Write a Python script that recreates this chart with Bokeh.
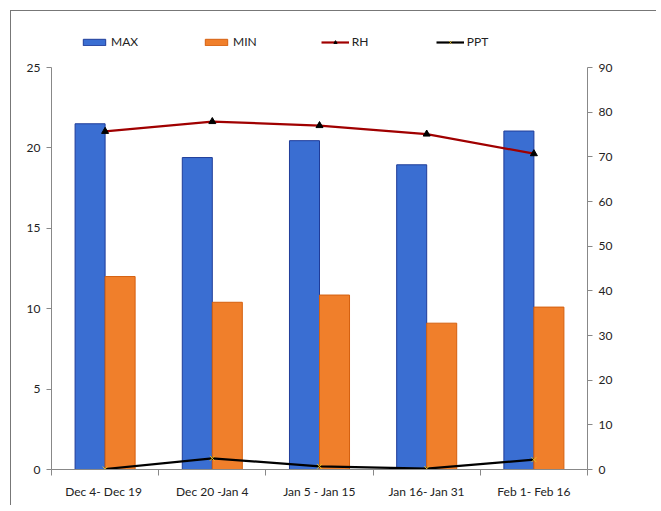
from bokeh.plotting import figure
from bokeh.models import Range1d, LinearAxis, FixedTicker, Legend, LegendItem
from bokeh.embed import file_html
from bokeh.resources import INLINE

categories = ["Dec 4-  Dec 19", "Dec 20 -Jan 4", "Jan 5 - Jan 15", "Jan 16- Jan 31", "Feb 1- Feb 16"]
max_t = [21.5, 19.4, 20.45, 18.95, 21.05]
min_t = [12.0, 10.4, 10.85, 9.1, 10.1]
rh = [75.7, 77.9, 77.0, 75.1, 70.7]
ppt = [0.1, 2.5, 0.7, 0.2, 2.2]
left_ticks = [0, 5, 10, 15, 20, 25]
right_ticks = [0, 10, 20, 30, 40, 50, 60, 70, 80, 90]

FONT = "Lato"
n = len(categories)
centers = [i + 0.5 for i in range(n)]
bw = 0.28

AXIS_H = 402   # pixel height of the 0..25 axis
FRAME_H = 449  # frame includes room for the legend above the axes
left_max = left_ticks[-1]
right_max = right_ticks[-1]
ext = FRAME_H / AXIS_H

p = figure(width=645, height=494, output_backend="svg", toolbar_location=None,
           x_range=Range1d(0, n), y_range=Range1d(0, left_max * ext),
           min_border_left=40, min_border_right=69, min_border_top=9, min_border_bottom=36)
p.frame_width = 536
p.frame_height = FRAME_H
p.margin = (10, 0, 0, 10)
p.outline_line_color = None
p.xgrid.visible = False
p.ygrid.visible = False
p.styles = {"border-left": "1px solid #777", "border-top": "1px solid #777"}

p.extra_y_ranges = {"rh": Range1d(0, right_max * ext)}

r_max = p.vbar(x=[c - bw / 2 for c in centers], top=max_t, width=bw,
               fill_color="#3A6ED2", line_color="#1F3C99", line_width=1)
r_min = p.vbar(x=[c + bw / 2 for c in centers], top=min_t, width=bw,
               fill_color="#F07F2B", line_color="#D5600F", line_width=1)

r_rh = p.line(centers, rh, y_range_name="rh", line_color="#A00000", line_width=2.2)
r_rh_m = p.scatter(centers, rh, y_range_name="rh", marker="triangle", size=7,
                   fill_color="black", line_color="black")
r_ppt = p.line(centers, ppt, y_range_name="rh", line_color="black", line_width=2.2)
r_ppt_m = p.scatter(centers, ppt, y_range_name="rh", marker="x", size=7,
                    line_color="#E8C020", line_width=1)

# x axis
xa = p.xaxis[0]
xa.ticker = FixedTicker(ticks=centers, minor_ticks=list(range(n + 1)))
xa.major_label_overrides = {c: lab for c, lab in zip(centers, categories)}
xa.major_tick_out = 0
xa.major_tick_in = 0
xa.minor_tick_out = 6
xa.minor_tick_in = 0
xa.minor_tick_line_color = "#888888"
xa.axis_line_color = "#888888"
xa.major_label_text_font = FONT
xa.major_label_text_font_size = "12px"
xa.major_label_text_color = "#222222"
xa.major_label_standoff = 8

ya = p.yaxis[0]
ya.ticker = FixedTicker(ticks=left_ticks)
ya.bounds = (0, left_max)
ya.axis_line_color = "#888888"
ya.major_tick_line_color = "#888888"
ya.major_tick_out = 5
ya.major_tick_in = 0
ya.minor_tick_line_color = None
ya.major_label_text_font = FONT
ya.major_label_text_font_size = "12px"
ya.major_label_text_color = "#222222"
ya.major_label_standoff = 6

ra = LinearAxis(y_range_name="rh", ticker=FixedTicker(ticks=right_ticks), bounds=(0, right_max))
ra.axis_line_color = "#888888"
ra.major_tick_line_color = "#888888"
ra.major_tick_out = 5
ra.major_tick_in = 0
ra.minor_tick_line_color = None
ra.major_label_text_font = FONT
ra.major_label_text_font_size = "12px"
ra.major_label_text_color = "#222222"
ra.major_label_standoff = 6
p.add_layout(ra, "right")

items = [LegendItem(label="MAX", renderers=[r_max]),
         LegendItem(label="MIN", renderers=[r_min]),
         LegendItem(label="RH", renderers=[r_rh, r_rh_m]),
         LegendItem(label="PPT", renderers=[r_ppt, r_ppt_m])]
lg = Legend(items=items, location=(29, 420), orientation="horizontal",
            background_fill_alpha=0, border_line_color=None,
            label_text_font=FONT, label_text_font_size="12px", label_text_color="#222222",
            glyph_width=28, glyph_height=8, padding=0, margin=0, label_standoff=3,
            spacing=64, label_height=14)
p.add_layout(lg, "center")

open("out.html", "w").write(file_html(p, INLINE))
